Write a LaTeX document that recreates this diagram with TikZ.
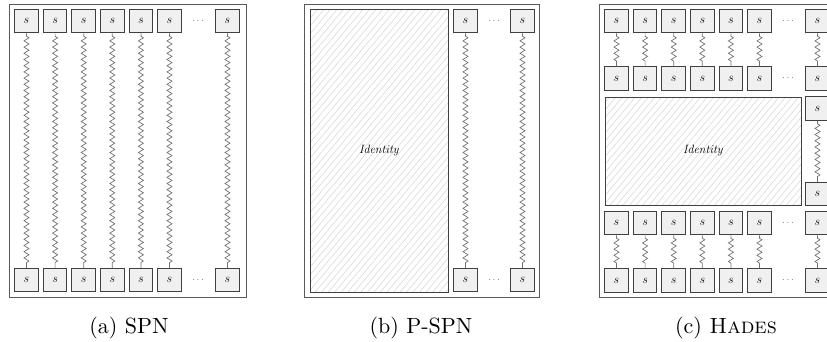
\documentclass[tikz,border=0pt]{standalone}
\usetikzlibrary{decorations.pathmorphing,patterns.meta}
\begin{document}
\begin{tikzpicture}[x=1pt,y=-1pt,
 sbox/.style={draw=black!75, fill=black!6, line width=1pt, minimum width=23.5pt, minimum height=23.5pt, inner sep=0pt, font=\fontsize{12}{14}\selectfont},
 frame/.style={draw=black!65, line width=0.9pt},
 wave/.style={draw=black!55, line width=0.7pt, decorate, decoration={zigzag, segment length=6.2pt, amplitude=2.5pt, pre length=3pt, post length=3pt}},
 idbox/.style={draw=black!75, line width=1pt, inner sep=0pt, pattern={Lines[angle=50,distance=5pt,line width=0.6pt]}, pattern color=black!15, font=\fontsize{12}{14}\selectfont},
 dots/.style={text=black!55, font=\fontsize{10}{12}\selectfont},
 captext/.style={font=\normalsize, scale=2.2, anchor=base}]
\useasboundingbox (0,0) rectangle (827,341);
% (a) SPN
\draw[frame] (9,4) rectangle (246,297);
\foreach \i/\x in {1/26.5,2/55.1,3/83.7,4/112.3,5/140.9,6/169.5,7/227.5}{
  \node[sbox] (at\i) at (\x,21) {$s$};
  \node[sbox] (ab\i) at (\x,280) {$s$};
  \draw[wave] (at\i) -- (ab\i);
}
\node[dots] (adt) at (198,21) {$\cdots$};
\node[dots] (adb) at (198,280) {$\cdots$};
\node[captext] (capa) at (129,333) {(a) SPN};
% (b) P-SPN
\draw[frame] (304,4) rectangle (539,297);
\node[idbox, minimum width=138pt, minimum height=283pt] (bid) at (379,150.5) {\textit{Identity}};
\foreach \i/\x in {1/465.5,2/522.5}{
  \node[sbox] (bt\i) at (\x,21) {$s$};
  \node[sbox] (bb\i) at (\x,280) {$s$};
  \draw[wave] (bt\i) -- (bb\i);
}
\node[dots] (bdt) at (494,21) {$\cdots$};
\node[dots] (bdb) at (494,280) {$\cdots$};
\node[captext] (capb) at (421,333) {(b) P-SPN};
% (c) HADES
\draw[frame] (599,4) rectangle (840,297);
\node[idbox, minimum width=196pt, minimum height=108pt] (cid) at (703,151) {\textit{Identity}};
\foreach \i/\x in {1/616.5,2/645.1,3/673.7,4/702.3,5/730.9,6/759.5,7/817.5}{
  \node[sbox] (ca\i) at (\x,21) {$s$};
  \node[sbox] (cb\i) at (\x,78.5) {$s$};
  \node[sbox] (cc\i) at (\x,223) {$s$};
  \node[sbox] (cd\i) at (\x,280.5) {$s$};
  \draw[wave] (ca\i) -- (cb\i);
  \draw[wave] (cc\i) -- (cd\i);
}
\node[sbox] (cm1) at (817.5,108.5) {$s$};
\node[sbox] (cm2) at (817.5,194) {$s$};
\draw[wave] (cm1) -- (cm2);
\node[dots] (cda) at (788,21) {$\cdots$};
\node[dots] (cdb) at (788,78.5) {$\cdots$};
\node[dots] (cdc) at (788,223) {$\cdots$};
\node[dots] (cdd) at (788,280.5) {$\cdots$};
\node[captext] (capc) at (726,333) {(c) \textsc{Hades}};
\end{tikzpicture}
\end{document}
